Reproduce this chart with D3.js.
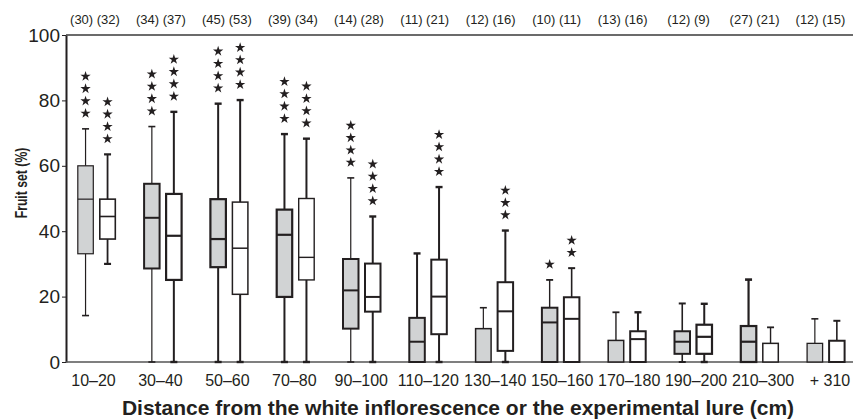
<!DOCTYPE html>
<html>
<head>
<meta charset="utf-8">
<script src="https://cdn.jsdelivr.net/npm/d3@7"></script>
<style>
	body { margin: 0; background: #fff; }
	svg text { font-family: "Liberation Sans", Arial, Helvetica, sans-serif; fill: #231f20; }
</style>
</head>
<body>
<div id="chart"></div>
<script>
// distance classes (cm)
var categories = ["10–20", "30–40", "50–60", "70–80", "90–100", "110–120",
	"130–140", "150–160", "170–180", "190–200", "210–300", "+ 310"];

// sample sizes printed above the plot
var nGray  = [30, 34, 45, 39, 14, 11, 12, 10, 13, 12, 27, 12];
var nWhite = [32, 37, 53, 34, 28, 21, 16, 11, 16, 9, 21, 15];

// box stats [min, q1, median, q3, max], fruit set (%)
var grayStats = [
	[14.2, 33.1, 49.8, 60.0, 71.3],
	[0, 28.6, 44.1, 54.5, 72.0],
	[0, 29.0, 37.6, 49.8, 79.0],
	[0, 19.9, 38.9, 46.6, 69.7],
	[0, 10.2, 21.9, 31.5, 56.3],
	[0, 0, 6.2, 13.5, 33.2],
	[0, 0, 0, 10.2, 16.6],
	[0, 0, 12.1, 16.6, 25.1],
	[0, 0, 0, 6.6, 15.2],
	[0, 2.5, 6.2, 9.4, 17.9],
	[0, 0, 6.2, 11.0, 25.2],
	[0, 0, 0, 5.7, 13.2]
];
var whiteStats = [
	[30.0, 37.6, 44.5, 49.8, 63.5],
	[0, 25.1, 38.6, 51.4, 76.5],
	[0, 20.7, 34.8, 48.9, 80.1],
	[0, 25.1, 32.0, 50.0, 68.3],
	[0, 15.4, 19.9, 30.1, 44.5],
	[0, 8.5, 20.0, 31.3, 53.5],
	[0, 3.4, 15.5, 24.4, 40.2],
	[0, 0, 13.2, 19.8, 28.7],
	[0, 0, 7.0, 9.4, 15.2],
	[0, 2.5, 7.7, 11.4, 17.8],
	[0, 0, 0, 5.7, 10.6],
	[0, 0, 0, 6.5, 12.6]
];

// significance stars above each box
var starsGray  = [4, 4, 4, 4, 4, 0, 0, 1, 0, 0, 0, 0];
var starsWhite = [4, 4, 4, 4, 4, 4, 3, 2, 0, 0, 0, 0];

var yTicks = [0, 20, 40, 60, 80, 100];

// line weights, the original mixes thick and thin outlines
var boxWGray    = [1.2, 2.0, 2.2, 2.2, 2.0, 2.0, 1.5, 2.0, 1.5, 2.0, 2.2, 1.3];
var boxWWhite   = [1.6, 2.2, 1.5, 1.4, 2.0, 2.0, 2.0, 2.0, 2.0, 2.2, 1.5, 2.0];
var whiskWGray  = [1.2, 1.2, 2.0, 2.0, 1.2, 2.0, 1.2, 1.4, 1.4, 1.6, 2.2, 1.2];
var whiskWWhite = [1.8, 2.0, 2.0, 2.0, 2.0, 2.0, 2.0, 1.6, 2.0, 2.0, 1.4, 1.6];

var W = 853, H = 419;
var margin = {top: 35, right: 0, bottom: 57, left: 66};
var ink = "#231f20";

var svg = d3.select("#chart").append("svg")
	.attr("width", W)
	.attr("height", H);

var x = d3.scaleBand()
	.domain(categories)
	.range([63.4, 859]);

// labels under and above the boxes sit on slightly different grids
var xLabel = d3.scalePoint().domain(categories).range([93.5, 830]);
var xCount = d3.scalePoint().domain(categories).range([95, 820.5]);

var y = d3.scaleLinear()
	.domain([0, 100])
	.range([H - margin.bottom, margin.top]);

var boxW = 15.5, off = 11, capW = 7;

// y axis
var yAxis = svg.append("g")
	.attr("transform", "translate(" + margin.left + ",0)")
	.call(d3.axisLeft(y).tickValues(yTicks).tickSize(4).tickPadding(2).tickSizeOuter(0));
yAxis.select(".domain").attr("stroke", ink).attr("stroke-width", 2);
yAxis.selectAll(".tick line").attr("stroke", ink).attr("stroke-width", 1);
yAxis.selectAll(".tick text")
	.attr("font-size", 19)
	.style("fill", ink);

// top and bottom frame lines
svg.append("line")
	.attr("x1", margin.left).attr("x2", W)
	.attr("y1", y(100)).attr("y2", y(100))
	.attr("stroke", "#3a3a3a").attr("stroke-width", 1.6);
svg.append("line")
	.attr("x1", margin.left).attr("x2", W)
	.attr("y1", y(0)).attr("y2", y(0))
	.attr("stroke", "#555").attr("stroke-width", 1.4);

// boxes
drawSeries(grayStats, -off, "#d1d3d4", boxWGray, whiskWGray, starsGray);
drawSeries(whiteStats, off, "#ffffff", boxWWhite, whiskWWhite, starsWhite);

// category labels
svg.append("g").selectAll("text")
	.data(categories)
	.enter().append("text")
	.attr("x", function(d) { return xLabel(d); })
	.attr("y", 386)
	.attr("text-anchor", "middle")
	.attr("font-size", 16)
	.text(function(d) { return d; });

// sample sizes
svg.append("g").selectAll("text")
	.data(categories)
	.enter().append("text")
	.attr("x", function(d) { return xCount(d); })
	.attr("y", 24)
	.attr("text-anchor", "middle")
	.attr("font-size", 13)
	.text(function(d, i) { return "(" + nGray[i] + ") (" + nWhite[i] + ")"; });

// axis titles
svg.append("text")
	.attr("x", 458)
	.attr("y", 415)
	.attr("text-anchor", "middle")
	.attr("font-size", 21)
	.attr("font-weight", "bold")
	.text("Distance from the white inflorescence or the experimental lure (cm)");

// the source squeezes this title along its length
svg.append("text")
	.attr("transform", "translate(26.5,183) rotate(-90) scale(0.72,1)")
	.attr("text-anchor", "middle")
	.attr("font-size", 17)
	.attr("font-weight", "bold")
	.text("Fruit set (%)");

function drawSeries(stats, dx, fill, bw, ww, stars){
	var g = svg.append("g");
	var star = d3.symbol(d3.symbolStar).size(33);

	stats.forEach(function(s, i){
		var cx = x(categories[i]) + x.bandwidth() / 2 + dx;
		var min = s[0], q1 = s[1], med = s[2], q3 = s[3], max = s[4];

		// upper whisker
		if (max > q3) {
			g.append("line")
				.attr("x1", cx).attr("x2", cx)
				.attr("y1", y(q3)).attr("y2", y(max))
				.attr("stroke", ink).attr("stroke-width", ww[i]);
			g.append("line")
				.attr("x1", cx - capW / 2).attr("x2", cx + capW / 2)
				.attr("y1", y(max)).attr("y2", y(max))
				.attr("stroke", ink).attr("stroke-width", ww[i] + 0.4);
		}
		// lower whisker
		if (q1 > min) {
			g.append("line")
				.attr("x1", cx).attr("x2", cx)
				.attr("y1", y(q1)).attr("y2", y(min))
				.attr("stroke", ink).attr("stroke-width", ww[i]);
			g.append("line")
				.attr("x1", cx - capW / 2).attr("x2", cx + capW / 2)
				.attr("y1", y(min)).attr("y2", y(min))
				.attr("stroke", ink).attr("stroke-width", ww[i] + 0.4);
		}

		g.append("rect")
			.attr("x", cx - boxW / 2)
			.attr("y", y(q3))
			.attr("width", boxW)
			.attr("height", y(q1) - y(q3))
			.attr("fill", fill)
			.attr("stroke", ink)
			.attr("stroke-width", bw[i]);

		if (med > q1) {
			g.append("line")
				.attr("x1", cx - boxW / 2).attr("x2", cx + boxW / 2)
				.attr("y1", y(med)).attr("y2", y(med))
				.attr("stroke", ink).attr("stroke-width", bw[i]);
		}

		// significance stars, stacked upwards from the whisker top
		for (var k = 0; k < stars[i]; k++) {
			g.append("path")
				.attr("d", star)
				.attr("fill", ink)
				.attr("transform", "translate(" + cx + "," + (y(max) - 15.5 - k * 12.3) + ")");
		}
	});
}
</script>
</body>
</html>
